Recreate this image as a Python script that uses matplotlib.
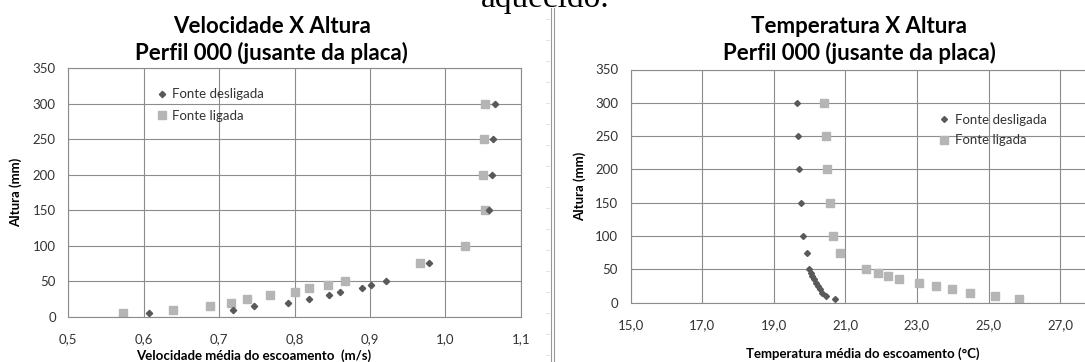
import matplotlib
matplotlib.use("Agg")
import matplotlib.pyplot as plt

# dados
alt_vel_desl = [5, 10, 15, 20, 25, 30, 35, 40, 45, 50, 75, 150, 200, 250, 300]
vel_desl = [0.607, 0.719, 0.746, 0.791, 0.819, 0.846, 0.861, 0.889, 0.902, 0.921,
            0.978, 1.058, 1.062, 1.063, 1.066]
alt_vel_lig = [5, 10, 15, 20, 25, 30, 35, 40, 45, 50, 75, 100, 150, 200, 250, 300]
vel_lig = [0.573, 0.639, 0.688, 0.716, 0.737, 0.767, 0.800, 0.819, 0.844, 0.867,
           0.967, 1.026, 1.052, 1.050, 1.051, 1.053]

alt_temp = [5, 10, 15, 20, 25, 30, 35, 40, 45, 50, 75, 100, 150, 200, 250, 300]
temp_desl = [20.71, 20.45, 20.36, 20.29, 20.23, 20.18, 20.12, 20.07, 20.03, 19.98,
             19.93, 19.81, 19.76, 19.70, 19.67, 19.66]
temp_lig = [25.85, 25.19, 24.49, 23.99, 23.53, 23.06, 22.51, 22.20, 21.91, 21.59,
            20.85, 20.65, 20.56, 20.50, 20.47, 20.41]

yticks = [0, 50, 100, 150, 200, 250, 300, 350]
vel_ticks = [0.5, 0.6, 0.7, 0.8, 0.9, 1.0, 1.1]
vel_labels = ["0,5", "0,6", "0,7", "0,8", "0,9", "1,0", "1,1"]
temp_ticks = [15, 17, 19, 21, 23, 25, 27]
temp_labels = ["15,0", "17,0", "19,0", "21,0", "23,0", "25,0", "27,0"]
series = ["Fonte desligada", "Fonte ligada"]

plt.rcParams['font.family'] = ['Lato', 'DejaVu Sans']
W, H = 1085, 362
fig = plt.figure(figsize=(W / 100, H / 100), dpi=100)

cor_grade = "#8c8c8c"
cor_desl = "#595959"
cor_lig = "#b5b5b5"


def estilo(ax):
    ax.set_yticks(yticks)
    ax.set_ylim(0, 350)
    ax.grid(True, color=cor_grade, lw=0.8)
    ax.set_axisbelow(True)
    for s in ax.spines.values():
        s.set_color(cor_grade)
        s.set_linewidth(0.8)
    ax.tick_params(length=0, labelsize=9.5, labelcolor="#333333")
    ax.tick_params(axis='y', pad=9)
    ax.tick_params(axis='x', pad=12)


# velocidade
ax1 = fig.add_axes([68.3 / W, (H - 316.7) / H, 452.4 / W, 248.4 / H])
ax1.plot(vel_desl, alt_vel_desl, 'D', ms=3.2, color=cor_desl, label=series[0], zorder=3)
ax1.plot(vel_lig, alt_vel_lig, 's', ms=5.6, color=cor_lig, label=series[1], zorder=2)
ax1.set_xlim(0.5, 1.1)
ax1.set_xticks(vel_ticks)
ax1.set_xticklabels(vel_labels)
estilo(ax1)
ax1.set_xlabel("Velocidade média do escoamento  (m/s)", fontsize=9.5, fontweight='bold', va='top')
ax1.xaxis.set_label_coords(0.409, -0.132)
ax1.set_ylabel("Altura (mm)", fontsize=9.5, fontweight='bold')
ax1.yaxis.set_label_coords(-0.102, 0.5)
ax1.legend(loc='upper left', bbox_to_anchor=(0.192, 0.92), frameon=False, fontsize=9.5,
           borderpad=0, borderaxespad=0, handlelength=1.0, handletextpad=0.3,
           labelspacing=0.75, labelcolor="#333333")

# temperatura
ax2 = fig.add_axes([630.5 / W, (H - 302.7) / H, 501.2 / W, 233.2 / H])
ax2.plot(temp_desl, alt_temp, 'D', ms=3.0, color=cor_desl, label=series[0], zorder=3)
ax2.plot(temp_lig, alt_temp, 's', ms=5.6, color=cor_lig, label=series[1], zorder=2)
ax2.set_xlim(15, 29)
ax2.set_xticks(temp_ticks)
ax2.set_xticklabels(temp_labels)
ax2.set_xticks([29], minor=True)
ax2.grid(True, which='minor', axis='x', color=cor_grade, lw=0.8)
estilo(ax2)
ax2.set_xlabel("Temperatura média do escoamento (°C)", fontsize=9.5, fontweight='bold', va='top')
ax2.xaxis.set_label_coords(0.464, -0.19)
ax2.set_ylabel("Altura (mm)", fontsize=9.5, fontweight='bold')
ax2.yaxis.set_label_coords(-0.0888, 0.5)
ax2.legend(loc='upper left', bbox_to_anchor=(0.613, 0.81), frameon=False, fontsize=9.5,
           borderpad=0, borderaxespad=0, handlelength=1.0, handletextpad=0.3,
           labelspacing=0.65, labelcolor="#333333")

# titulos
fig.text(271.6 / W, 1 - 40 / H, "Velocidade X Altura\nPerfil 000 (jusante da placa)",
         ha='center', va='center', fontsize=16, fontweight='bold', linespacing=1.25)
fig.text(859 / W, 1 - 40 / H, "Temperatura X Altura\nPerfil 000 (jusante da placa)",
         ha='center', va='center', fontsize=16, fontweight='bold', linespacing=1.25)

# resto do documento
fig.text(545 / W, 1 - 7 / H, "aquecido.", ha='center', va='baseline', fontsize=24,
         family='Liberation Serif')
fig.add_artist(plt.Line2D([551 / W, 551 / W], [0, 1 - 8 / H], color="#999999", lw=0.8))
fig.add_artist(plt.Line2D([553.5 / W, 553.5 / W], [0, 1 - 8 / H], color="#999999", lw=0.8))
for yy in range(19, 362, 21):
    fig.add_artist(plt.Line2D([546 / W, 549 / W], [1 - yy / H, 1 - yy / H], color="#dddddd", lw=0.6))

fig.savefig("out.png", dpi=100)
